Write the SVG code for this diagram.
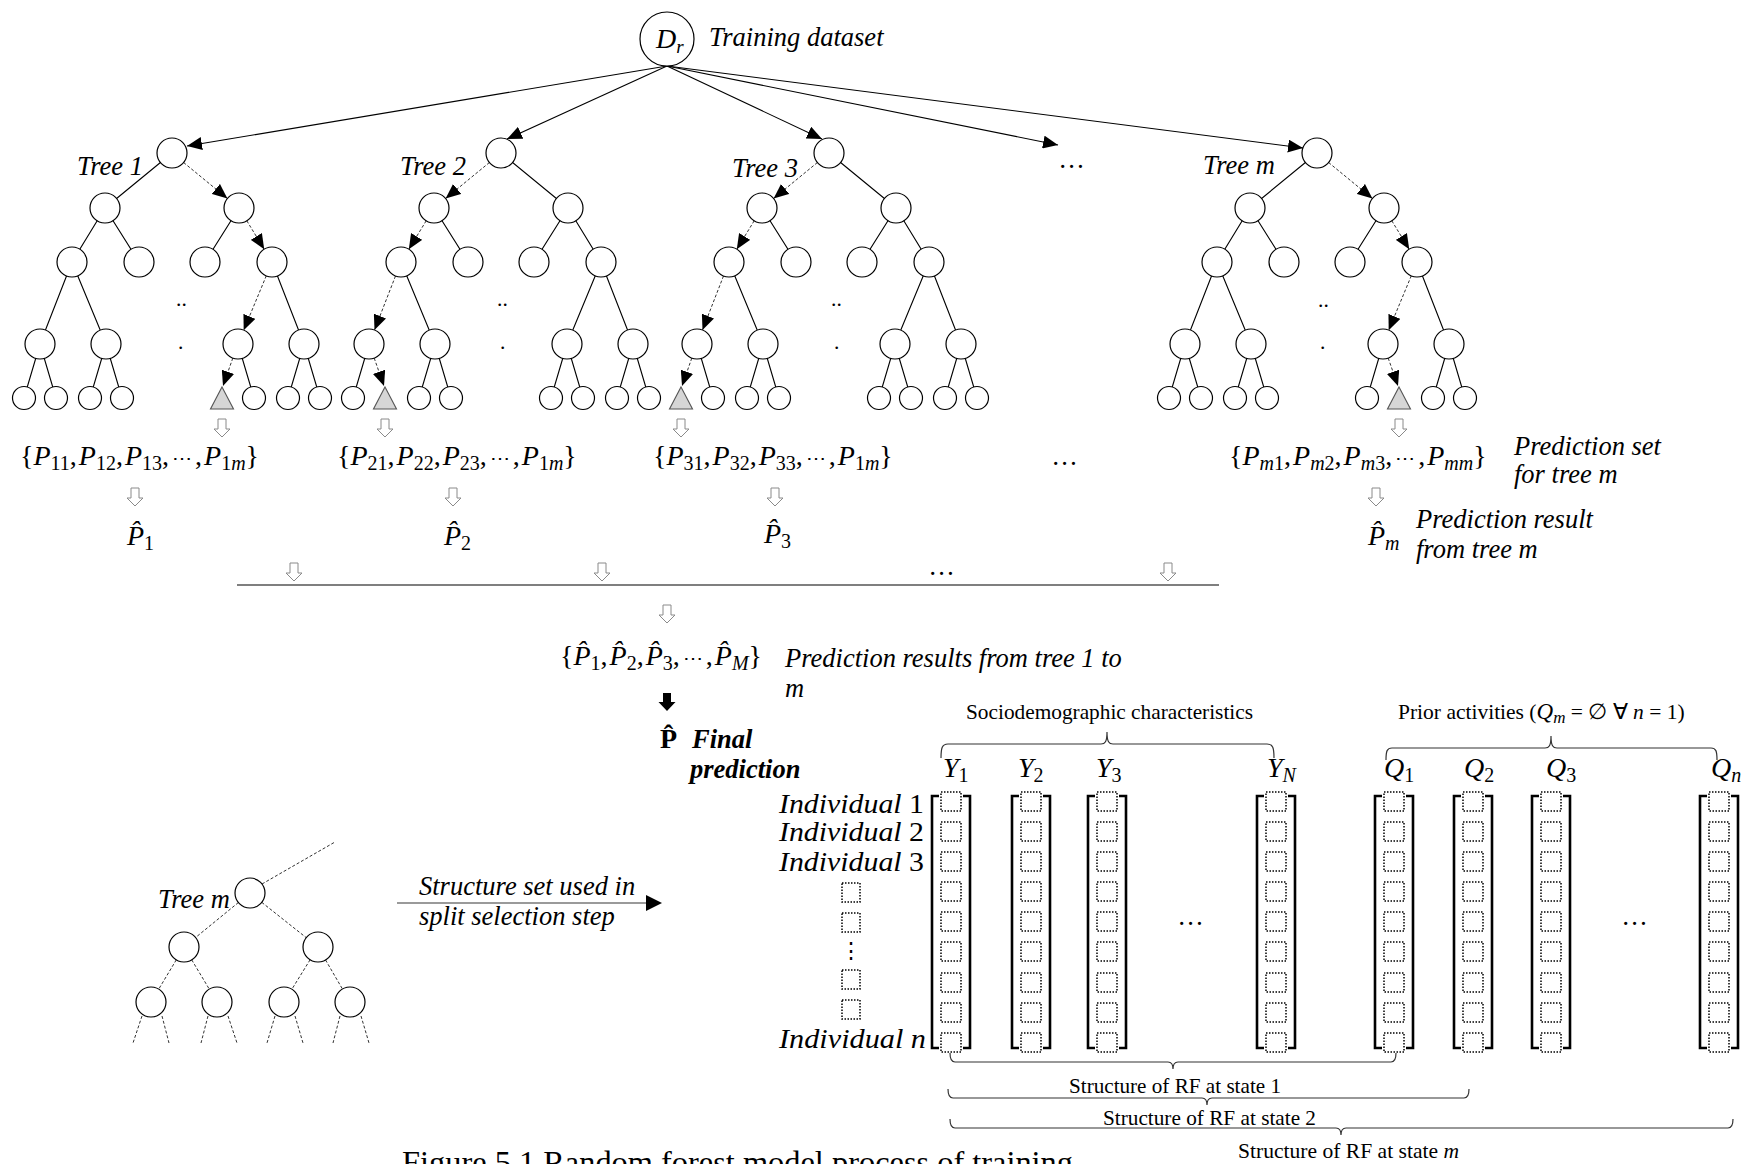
<svg xmlns="http://www.w3.org/2000/svg" xmlns:xlink="http://www.w3.org/1999/xlink" width="1744" height="1164" viewBox="0 0 1744 1164">
<style>
  .n { fill:#fff; stroke:#000; stroke-width:1.2; }
  .tri { fill:#d6d6d6; stroke:#555; stroke-width:1.1; }
  .e { stroke:#000; stroke-width:1.1; fill:none; }
  .d { stroke:#333; stroke-width:1; stroke-dasharray:3 2; fill:none; }
  .it { font-family:"Liberation Serif",serif; font-style:italic; font-size:26.5px; fill:#000; }
  .rm { font-family:"Liberation Serif",serif; font-size:21.5px; fill:#000; }
  .mt { font-family:"Liberation Serif","DejaVu Serif",serif; font-size:28px; fill:#000; }
  .sb { font-size:20px; }
  .el { font-size:20px; }
  .bk { stroke:#000; stroke-width:2.6; fill:none; }
  .sq { fill:none; stroke:#000; stroke-width:1.5; stroke-dasharray:1.5 1.5; }
  .ha { fill:#fff; stroke:#8a8a8a; stroke-width:1; }
  .br { stroke:#333; stroke-width:1.2; fill:none; }
</style>
<defs>
  <marker id="ah" markerUnits="userSpaceOnUse" markerWidth="16" markerHeight="13" refX="15" refY="6.5" orient="auto">
    <path d="M0,0 L15,6.5 L0,13 z" fill="#000"/>
  </marker>
  <!-- hollow block arrow, origin at top centre -->
  <path id="hollow" class="ha" d="M-4,0 h8 v10 h4 l-8,8 l-8,-8 h4 z"/>
  <!-- one bracketed column of nine cells, origin at column centre -->
  <g id="colT">
    <path class="bk" d="M-12,796 h-7 v252 h7"/>
    <path class="bk" d="M12,796 h7 v252 h-7"/>
    <rect class="sq" x="-10" y="792" width="20" height="19"/>
    <rect class="sq" x="-10" y="822" width="20" height="19"/>
    <rect class="sq" x="-10" y="852" width="20" height="19"/>
    <rect class="sq" x="-10" y="882" width="20" height="19"/>
    <rect class="sq" x="-10" y="912" width="20" height="19"/>
    <rect class="sq" x="-10" y="942" width="20" height="19"/>
    <rect class="sq" x="-10" y="973" width="20" height="19"/>
    <rect class="sq" x="-10" y="1003" width="20" height="19"/>
    <rect class="sq" x="-10" y="1033" width="20" height="19"/>
  </g>
</defs>
<rect width="1744" height="1164" fill="#fff"/>

<!-- ===== connectors ===== -->
<g id="connectors">
  <!-- training set to each tree -->
  <g class="e" marker-end="url(#ah)">
    <line x1="667" y1="66" x2="187" y2="146"/>
    <line x1="667" y1="66" x2="507" y2="139"/>
    <line x1="667" y1="66" x2="822" y2="139"/>
    <line x1="667" y1="66" x2="1058" y2="145"/>
    <line x1="667" y1="66" x2="1303" y2="148"/>
  </g>
  <!-- tree edges -->
  <path class="e" d="M172,153 L105,208 M105,208 L72,262 M105,208 L139,262 M239,208 L205,262 M72,262 L40,344 M72,262 L106,344 M272,262 L304,344 M40,344 L24,398 M40,344 L56,398 M106,344 L90,398 M106,344 L122,398 M238,344 L254,398 M304,344 L288,398 M304,344 L320,398"/>
  <path class="e" d="M501,153 L568,208 M434,208 L468,262 M568,208 L534,262 M568,208 L601,262 M401,262 L435,344 M601,262 L567,344 M601,262 L633,344 M369,344 L353,398 M435,344 L419,398 M435,344 L451,398 M567,344 L551,398 M567,344 L583,398 M633,344 L617,398 M633,344 L649,398"/>
  <path class="e" d="M829,153 L896,208 M762,208 L796,262 M896,208 L862,262 M896,208 L929,262 M729,262 L763,344 M929,262 L895,344 M929,262 L961,344 M697,344 L713,398 M763,344 L747,398 M763,344 L779,398 M895,344 L879,398 M895,344 L911,398 M961,344 L945,398 M961,344 L977,398"/>
  <path class="e" d="M1317,153 L1250,208 M1250,208 L1217,262 M1250,208 L1284,262 M1384,208 L1350,262 M1217,262 L1185,344 M1217,262 L1251,344 M1417,262 L1449,344 M1185,344 L1169,398 M1185,344 L1201,398 M1251,344 L1235,398 M1251,344 L1267,398 M1383,344 L1367,398 M1449,344 L1433,398 M1449,344 L1465,398"/>
  <!-- decision paths -->
  <g class="d" marker-end="url(#ah)">
    <line x1="183.6" y1="162.5" x2="227.4" y2="198.5"/>
    <line x1="246.8" y1="220.8" x2="264.2" y2="249.2"/>
    <line x1="266.3" y1="275.8" x2="243.7" y2="330.2"/>
    <line x1="232.8" y1="358.1" x2="223" y2="386"/>

    <line x1="489.4" y1="162.5" x2="445.6" y2="198.5"/>
    <line x1="426.2" y1="220.8" x2="408.8" y2="249.2"/>
    <line x1="395.5" y1="276" x2="374.5" y2="330"/>
    <line x1="374.2" y1="358.1" x2="384" y2="386"/>

    <line x1="817.4" y1="162.5" x2="773.6" y2="198.5"/>
    <line x1="754.2" y1="220.8" x2="736.8" y2="249.2"/>
    <line x1="723.5" y1="276" x2="702.5" y2="330"/>
    <line x1="691.8" y1="358.1" x2="682" y2="386"/>

    <line x1="1328.6" y1="162.5" x2="1372.4" y2="198.5"/>
    <line x1="1391.8" y1="220.8" x2="1409.2" y2="249.2"/>
    <line x1="1411.3" y1="275.8" x2="1388.7" y2="330.2"/>
    <line x1="1388.2" y1="358.1" x2="1398" y2="386"/>
  </g>
  <!-- hollow flow arrows -->
  <use href="#hollow" x="222" y="419"/>
  <use href="#hollow" x="385" y="419"/>
  <use href="#hollow" x="681" y="419"/>
  <use href="#hollow" x="1399" y="419"/>
  <use href="#hollow" x="135" y="488"/>
  <use href="#hollow" x="453" y="488"/>
  <use href="#hollow" x="775" y="488"/>
  <use href="#hollow" x="1376" y="488"/>
  <use href="#hollow" x="294" y="563"/>
  <use href="#hollow" x="602" y="563"/>
  <use href="#hollow" x="1168" y="563"/>
  <use href="#hollow" x="667" y="605"/>
  <line x1="237" y1="585" x2="1219" y2="585" stroke="#555" stroke-width="1.5"/>
  <path d="M663,693 h8 v9 h4.5 l-8.5,9 l-8.5,-9 h4.5 z" fill="#000"/>
  <!-- small tree edges -->
  <path class="d" d="M262,884 L335,842 M250,893 L184,947 M250,893 L318,947 M184,947 L151,1002 M184,947 L217,1002 M318,947 L284,1002 M318,947 L350,1002 M142,1016 L133,1043 M162,1016 L169,1043 M208,1016 L201,1043 M228,1016 L237,1043 M275,1016 L267,1043 M295,1016 L303,1043 M340,1016 L333,1043 M361,1016 L369,1043"/>
  <!-- structure arrow -->
  <line x1="397" y1="903" x2="648" y2="903" stroke="#9a9a9a" stroke-width="2"/>
  <path d="M646,895 L662,903 L646,911 z" fill="#000"/>
  <!-- braces -->
  <path class="br" d="M941,758 C941,748 942,744 948,744 H1101 C1105,744 1107,742 1107,732 C1107,742 1109,744 1113,744 H1267 C1273,744 1274,748 1274,758"/>
  <path class="br" d="M1386,760 C1386,751 1387,748 1392,748 H1545 C1549,748 1551,746 1551,736 C1551,746 1553,748 1557,748 H1711 C1716,748 1717,751 1717,760"/>
  <path class="br" d="M950,1053 C950,1059 951,1062 955,1062 H1168 C1171,1062 1173,1064 1173,1069 C1173,1064 1175,1062 1178,1062 H1391 C1395,1062 1396,1059 1396,1053"/>
  <path class="br" d="M948,1089 C948,1095 949,1098 953,1098 H1202 C1205,1098 1207,1100 1207,1105 C1207,1100 1209,1098 1212,1098 H1464 C1468,1098 1469,1095 1469,1089"/>
  <path class="br" d="M950,1119 C950,1125 951,1128 955,1128 H1336 C1339,1128 1341,1130 1341,1135 C1341,1130 1343,1128 1346,1128 H1728 C1732,1128 1733,1125 1733,1119"/>
</g>

<!-- ===== nodes ===== -->
<g id="root-dr">
  <circle cx="667" cy="39" r="27" class="n"/>
  <text class="mt" x="656" y="48" font-size="25" font-style="italic">D<tspan font-size="19" dy="5">r</tspan></text>
  <text class="it" x="709" y="46">Training dataset</text>
</g>

<g id="tree1">
  <text class="it" x="77" y="175">Tree 1</text>
  <g id="t1-n0"><circle class="n" cx="172" cy="153" r="15"/></g>
  <g id="t1-n1"><circle class="n" cx="105" cy="208" r="15"/></g>
  <g id="t1-n2"><circle class="n" cx="239" cy="208" r="15"/></g>
  <g id="t1-n3"><circle class="n" cx="72" cy="262" r="15"/></g>
  <g id="t1-n4"><circle class="n" cx="139" cy="262" r="15"/></g>
  <g id="t1-n5"><circle class="n" cx="205" cy="262" r="15"/></g>
  <g id="t1-n6"><circle class="n" cx="272" cy="262" r="15"/></g>
  <g id="t1-n7"><circle class="n" cx="40" cy="344" r="15"/></g>
  <g id="t1-n8"><circle class="n" cx="106" cy="344" r="15"/></g>
  <g id="t1-n9"><circle class="n" cx="238" cy="344" r="15"/></g>
  <g id="t1-n10"><circle class="n" cx="304" cy="344" r="15"/></g>
  <g id="t1-n11"><circle class="n" cx="24" cy="398" r="11.5"/></g>
  <g id="t1-n12"><circle class="n" cx="56" cy="398" r="11.5"/></g>
  <g id="t1-n13"><circle class="n" cx="90" cy="398" r="11.5"/></g>
  <g id="t1-n14"><circle class="n" cx="122" cy="398" r="11.5"/></g>
  <g id="t1-leaf"><path class="tri" d="M222,387 L233.5,409 L210.5,409 z"/></g>
  <g id="t1-n16"><circle class="n" cx="254" cy="398" r="11.5"/></g>
  <g id="t1-n17"><circle class="n" cx="288" cy="398" r="11.5"/></g>
  <g id="t1-n18"><circle class="n" cx="320" cy="398" r="11.5"/></g>
  <text class="rm" x="176" y="306" font-size="20">..</text>
  <text class="rm" x="178" y="349" font-size="20">.</text>
</g>

<g id="tree2">
  <text class="it" x="400" y="175">Tree 2</text>
  <g id="t2-n0"><circle class="n" cx="501" cy="153" r="15"/></g>
  <g id="t2-n1"><circle class="n" cx="434" cy="208" r="15"/></g>
  <g id="t2-n2"><circle class="n" cx="568" cy="208" r="15"/></g>
  <g id="t2-n3"><circle class="n" cx="401" cy="262" r="15"/></g>
  <g id="t2-n4"><circle class="n" cx="468" cy="262" r="15"/></g>
  <g id="t2-n5"><circle class="n" cx="534" cy="262" r="15"/></g>
  <g id="t2-n6"><circle class="n" cx="601" cy="262" r="15"/></g>
  <g id="t2-n7"><circle class="n" cx="369" cy="344" r="15"/></g>
  <g id="t2-n8"><circle class="n" cx="435" cy="344" r="15"/></g>
  <g id="t2-n9"><circle class="n" cx="567" cy="344" r="15"/></g>
  <g id="t2-n10"><circle class="n" cx="633" cy="344" r="15"/></g>
  <g id="t2-n11"><circle class="n" cx="353" cy="398" r="11.5"/></g>
  <g id="t2-leaf"><path class="tri" d="M385,387 L396.5,409 L373.5,409 z"/></g>
  <g id="t2-n13"><circle class="n" cx="419" cy="398" r="11.5"/></g>
  <g id="t2-n14"><circle class="n" cx="451" cy="398" r="11.5"/></g>
  <g id="t2-n15"><circle class="n" cx="551" cy="398" r="11.5"/></g>
  <g id="t2-n16"><circle class="n" cx="583" cy="398" r="11.5"/></g>
  <g id="t2-n17"><circle class="n" cx="617" cy="398" r="11.5"/></g>
  <g id="t2-n18"><circle class="n" cx="649" cy="398" r="11.5"/></g>
  <text class="rm" x="497" y="306" font-size="20">..</text>
  <text class="rm" x="500" y="349" font-size="20">.</text>
</g>

<g id="tree3">
  <text class="it" x="732" y="177">Tree 3</text>
  <g id="t3-n0"><circle class="n" cx="829" cy="153" r="15"/></g>
  <g id="t3-n1"><circle class="n" cx="762" cy="208" r="15"/></g>
  <g id="t3-n2"><circle class="n" cx="896" cy="208" r="15"/></g>
  <g id="t3-n3"><circle class="n" cx="729" cy="262" r="15"/></g>
  <g id="t3-n4"><circle class="n" cx="796" cy="262" r="15"/></g>
  <g id="t3-n5"><circle class="n" cx="862" cy="262" r="15"/></g>
  <g id="t3-n6"><circle class="n" cx="929" cy="262" r="15"/></g>
  <g id="t3-n7"><circle class="n" cx="697" cy="344" r="15"/></g>
  <g id="t3-n8"><circle class="n" cx="763" cy="344" r="15"/></g>
  <g id="t3-n9"><circle class="n" cx="895" cy="344" r="15"/></g>
  <g id="t3-n10"><circle class="n" cx="961" cy="344" r="15"/></g>
  <g id="t3-leaf"><path class="tri" d="M681,387 L692.5,409 L669.5,409 z"/></g>
  <g id="t3-n12"><circle class="n" cx="713" cy="398" r="11.5"/></g>
  <g id="t3-n13"><circle class="n" cx="747" cy="398" r="11.5"/></g>
  <g id="t3-n14"><circle class="n" cx="779" cy="398" r="11.5"/></g>
  <g id="t3-n15"><circle class="n" cx="879" cy="398" r="11.5"/></g>
  <g id="t3-n16"><circle class="n" cx="911" cy="398" r="11.5"/></g>
  <g id="t3-n17"><circle class="n" cx="945" cy="398" r="11.5"/></g>
  <g id="t3-n18"><circle class="n" cx="977" cy="398" r="11.5"/></g>
  <text class="rm" x="831" y="306" font-size="20">..</text>
  <text class="rm" x="834" y="349" font-size="20">.</text>
</g>

<g id="tree-dots">
  <text class="it" x="1072" y="168" text-anchor="middle">…</text>
</g>

<g id="treem">
  <text class="it" x="1203" y="174">Tree m</text>
  <g id="tm-n0"><circle class="n" cx="1317" cy="153" r="15"/></g>
  <g id="tm-n1"><circle class="n" cx="1250" cy="208" r="15"/></g>
  <g id="tm-n2"><circle class="n" cx="1384" cy="208" r="15"/></g>
  <g id="tm-n3"><circle class="n" cx="1217" cy="262" r="15"/></g>
  <g id="tm-n4"><circle class="n" cx="1284" cy="262" r="15"/></g>
  <g id="tm-n5"><circle class="n" cx="1350" cy="262" r="15"/></g>
  <g id="tm-n6"><circle class="n" cx="1417" cy="262" r="15"/></g>
  <g id="tm-n7"><circle class="n" cx="1185" cy="344" r="15"/></g>
  <g id="tm-n8"><circle class="n" cx="1251" cy="344" r="15"/></g>
  <g id="tm-n9"><circle class="n" cx="1383" cy="344" r="15"/></g>
  <g id="tm-n10"><circle class="n" cx="1449" cy="344" r="15"/></g>
  <g id="tm-n11"><circle class="n" cx="1169" cy="398" r="11.5"/></g>
  <g id="tm-n12"><circle class="n" cx="1201" cy="398" r="11.5"/></g>
  <g id="tm-n13"><circle class="n" cx="1235" cy="398" r="11.5"/></g>
  <g id="tm-n14"><circle class="n" cx="1267" cy="398" r="11.5"/></g>
  <g id="tm-n15"><circle class="n" cx="1367" cy="398" r="11.5"/></g>
  <g id="tm-leaf"><path class="tri" d="M1399,387 L1410.5,409 L1387.5,409 z"/></g>
  <g id="tm-n17"><circle class="n" cx="1433" cy="398" r="11.5"/></g>
  <g id="tm-n18"><circle class="n" cx="1465" cy="398" r="11.5"/></g>
  <text class="rm" x="1318" y="307" font-size="20">..</text>
  <text class="rm" x="1320" y="349" font-size="20">.</text>
</g>

<!-- prediction sets -->
<g id="set1">
  <text class="mt" x="20" y="465">{<tspan font-style="italic">P</tspan><tspan class="sb" dy="5">11</tspan><tspan dy="-5">,</tspan><tspan dx="2" font-style="italic">P</tspan><tspan class="sb" dy="5">12</tspan><tspan dy="-5">,</tspan><tspan dx="2" font-style="italic">P</tspan><tspan class="sb" dy="5">13</tspan><tspan dy="-5">,</tspan><tspan class="el" dx="3">⋯</tspan><tspan dx="3">,</tspan><tspan dx="2" font-style="italic">P</tspan><tspan class="sb" dy="5">1<tspan font-style="italic">m</tspan></tspan><tspan dy="-5">}</tspan></text>
</g>
<g id="set2">
  <text class="mt" x="337" y="465">{<tspan font-style="italic">P</tspan><tspan class="sb" dy="5">21</tspan><tspan dy="-5">,</tspan><tspan dx="2" font-style="italic">P</tspan><tspan class="sb" dy="5">22</tspan><tspan dy="-5">,</tspan><tspan dx="2" font-style="italic">P</tspan><tspan class="sb" dy="5">23</tspan><tspan dy="-5">,</tspan><tspan class="el" dx="3">⋯</tspan><tspan dx="3">,</tspan><tspan dx="2" font-style="italic">P</tspan><tspan class="sb" dy="5">1<tspan font-style="italic">m</tspan></tspan><tspan dy="-5">}</tspan></text>
</g>
<g id="set3">
  <text class="mt" x="653" y="465">{<tspan font-style="italic">P</tspan><tspan class="sb" dy="5">31</tspan><tspan dy="-5">,</tspan><tspan dx="2" font-style="italic">P</tspan><tspan class="sb" dy="5">32</tspan><tspan dy="-5">,</tspan><tspan dx="2" font-style="italic">P</tspan><tspan class="sb" dy="5">33</tspan><tspan dy="-5">,</tspan><tspan class="el" dx="3">⋯</tspan><tspan dx="3">,</tspan><tspan dx="2" font-style="italic">P</tspan><tspan class="sb" dy="5">1<tspan font-style="italic">m</tspan></tspan><tspan dy="-5">}</tspan></text>
</g>
<g id="set-dots">
  <text class="it" x="1065" y="465" text-anchor="middle">…</text>
</g>
<g id="setm">
  <text class="mt" x="1229" y="465">{<tspan font-style="italic">P</tspan><tspan class="sb" dy="5" font-style="italic">m</tspan><tspan class="sb">1</tspan><tspan dy="-5">,</tspan><tspan dx="2" font-style="italic">P</tspan><tspan class="sb" dy="5" font-style="italic">m</tspan><tspan class="sb">2</tspan><tspan dy="-5">,</tspan><tspan dx="2" font-style="italic">P</tspan><tspan class="sb" dy="5" font-style="italic">m</tspan><tspan class="sb">3</tspan><tspan dy="-5">,</tspan><tspan class="el" dx="3">⋯</tspan><tspan dx="3">,</tspan><tspan dx="2" font-style="italic">P</tspan><tspan class="sb" dy="5" font-style="italic">mm</tspan><tspan dy="-5">}</tspan></text>
  <text class="it" x="1514" y="455">Prediction set</text>
  <text class="it" x="1514" y="483">for tree m</text>
</g>

<!-- per-tree results -->
<g id="res1"><text class="mt" x="127" y="545"><tspan font-style="italic">P̂</tspan><tspan class="sb" dy="5">1</tspan></text></g>
<g id="res2"><text class="mt" x="444" y="545"><tspan font-style="italic">P̂</tspan><tspan class="sb" dy="5">2</tspan></text></g>
<g id="res3"><text class="mt" x="764" y="543"><tspan font-style="italic">P̂</tspan><tspan class="sb" dy="5">3</tspan></text></g>
<g id="resm">
  <text class="mt" x="1368" y="545"><tspan font-style="italic">P̂</tspan><tspan class="sb" dy="5" font-style="italic">m</tspan></text>
  <text class="it" x="1416" y="528">Prediction result</text>
  <text class="it" x="1416" y="558">from tree m</text>
</g>

<g id="merge-dots"><text class="it" x="942" y="575" text-anchor="middle">…</text></g>

<g id="all-results">
  <text class="mt" x="560" y="665">{<tspan font-style="italic">P̂</tspan><tspan class="sb" dy="5">1</tspan><tspan dy="-5">,</tspan><tspan dx="2" font-style="italic">P̂</tspan><tspan class="sb" dy="5">2</tspan><tspan dy="-5">,</tspan><tspan dx="2" font-style="italic">P̂</tspan><tspan class="sb" dy="5">3</tspan><tspan dy="-5">,</tspan><tspan class="el" dx="3">⋯</tspan><tspan dx="3">,</tspan><tspan dx="2" font-style="italic">P̂</tspan><tspan class="sb" dy="5" font-style="italic">M</tspan><tspan dy="-5">}</tspan></text>
  <text class="it" x="785" y="667">Prediction results from tree 1 to</text>
  <text class="it" x="785" y="697">m</text>
</g>

<g id="final">
  <text class="mt" x="660" y="748" font-weight="bold">P̂</text>
  <text class="it" x="692" y="748" font-weight="bold">Final</text>
  <text class="it" x="690" y="778" font-weight="bold">prediction</text>
</g>

<!-- small tree used for split selection -->
<g id="small-tree">
  <text class="it" x="158" y="908">Tree m</text>
  <g id="s-n0"><circle class="n" cx="250" cy="893" r="15"/></g>
  <g id="s-n1"><circle class="n" cx="184" cy="947" r="15"/></g>
  <g id="s-n2"><circle class="n" cx="318" cy="947" r="15"/></g>
  <g id="s-n3"><circle class="n" cx="151" cy="1002" r="15"/></g>
  <g id="s-n4"><circle class="n" cx="217" cy="1002" r="15"/></g>
  <g id="s-n5"><circle class="n" cx="284" cy="1002" r="15"/></g>
  <g id="s-n6"><circle class="n" cx="350" cy="1002" r="15"/></g>
</g>

<g id="split-label">
  <text class="it" x="419" y="895">Structure set used in</text>
  <text class="it" x="419" y="925">split selection step</text>
</g>

<!-- feature matrix -->
<g id="feature-heads">
  <text class="rm" x="966" y="719" textLength="287" lengthAdjust="spacingAndGlyphs">Sociodemographic characteristics</text>
  <text class="rm" x="1398" y="719">Prior activities (<tspan font-style="italic" font-size="23">Q</tspan><tspan font-style="italic" font-size="17" dy="4">m</tspan><tspan dy="-4"> = ∅ ∀ </tspan><tspan font-style="italic">n</tspan> = 1)</text>
</g>

<g id="col-labels" class="mt" font-size="27">
  <text x="943" y="777"><tspan font-style="italic">Y</tspan><tspan class="sb" dy="5">1</tspan></text>
  <text x="1018" y="777"><tspan font-style="italic">Y</tspan><tspan class="sb" dy="5">2</tspan></text>
  <text x="1096" y="777"><tspan font-style="italic">Y</tspan><tspan class="sb" dy="5">3</tspan></text>
  <text x="1267" y="777"><tspan font-style="italic">Y</tspan><tspan class="sb" dy="5" font-style="italic">N</tspan></text>
  <text x="1384" y="777"><tspan font-style="italic">Q</tspan><tspan class="sb" dy="5">1</tspan></text>
  <text x="1464" y="777"><tspan font-style="italic">Q</tspan><tspan class="sb" dy="5">2</tspan></text>
  <text x="1546" y="777"><tspan font-style="italic">Q</tspan><tspan class="sb" dy="5">3</tspan></text>
  <text x="1711" y="777"><tspan font-style="italic">Q</tspan><tspan class="sb" dy="5" font-style="italic">n</tspan></text>
</g>

<g id="col-Y1"><use href="#colT" x="951"/></g>
<g id="col-Y2"><use href="#colT" x="1031"/></g>
<g id="col-Y3"><use href="#colT" x="1107"/></g>
<g id="col-YN"><use href="#colT" x="1276"/></g>
<g id="col-Q1"><use href="#colT" x="1394"/></g>
<g id="col-Q2"><use href="#colT" x="1473"/></g>
<g id="col-Q3"><use href="#colT" x="1551"/></g>
<g id="col-Qn"><use href="#colT" x="1719"/></g>
<text class="it" x="1191" y="925" text-anchor="middle">…</text>
<text class="it" x="1635" y="925" text-anchor="middle">…</text>

<g id="row-labels" class="mt" font-size="26">
  <text x="779" y="813" textLength="145" lengthAdjust="spacingAndGlyphs"><tspan font-style="italic">Individual </tspan>1</text>
  <text x="779" y="841" textLength="145" lengthAdjust="spacingAndGlyphs"><tspan font-style="italic">Individual </tspan>2</text>
  <text x="779" y="871" textLength="145" lengthAdjust="spacingAndGlyphs"><tspan font-style="italic">Individual </tspan>3</text>
  <text x="779" y="1048" textLength="147" lengthAdjust="spacingAndGlyphs" font-style="italic">Individual n</text>
  <rect class="sq" x="842" y="883" width="18" height="19"/>
  <rect class="sq" x="842" y="913" width="18" height="19"/>
  <text x="851" y="958" text-anchor="middle" font-size="22">⋮</text>
  <rect class="sq" x="842" y="970" width="18" height="19"/>
  <rect class="sq" x="842" y="1000" width="18" height="19"/>
</g>

<g id="state-labels" class="rm">
  <text x="1069" y="1093" textLength="212" lengthAdjust="spacingAndGlyphs">Structure of RF at state 1</text>
  <text x="1103" y="1125" textLength="213" lengthAdjust="spacingAndGlyphs">Structure of RF at state 2</text>
  <text x="1238" y="1158" textLength="221" lengthAdjust="spacingAndGlyphs">Structure of RF at state <tspan font-style="italic">m</tspan></text>
</g>

<text id="caption" x="402" y="1173" font-family="Liberation Serif, serif" font-size="32" textLength="671" lengthAdjust="spacingAndGlyphs">Figure 5.1 Random forest model process of training</text>
</svg>
